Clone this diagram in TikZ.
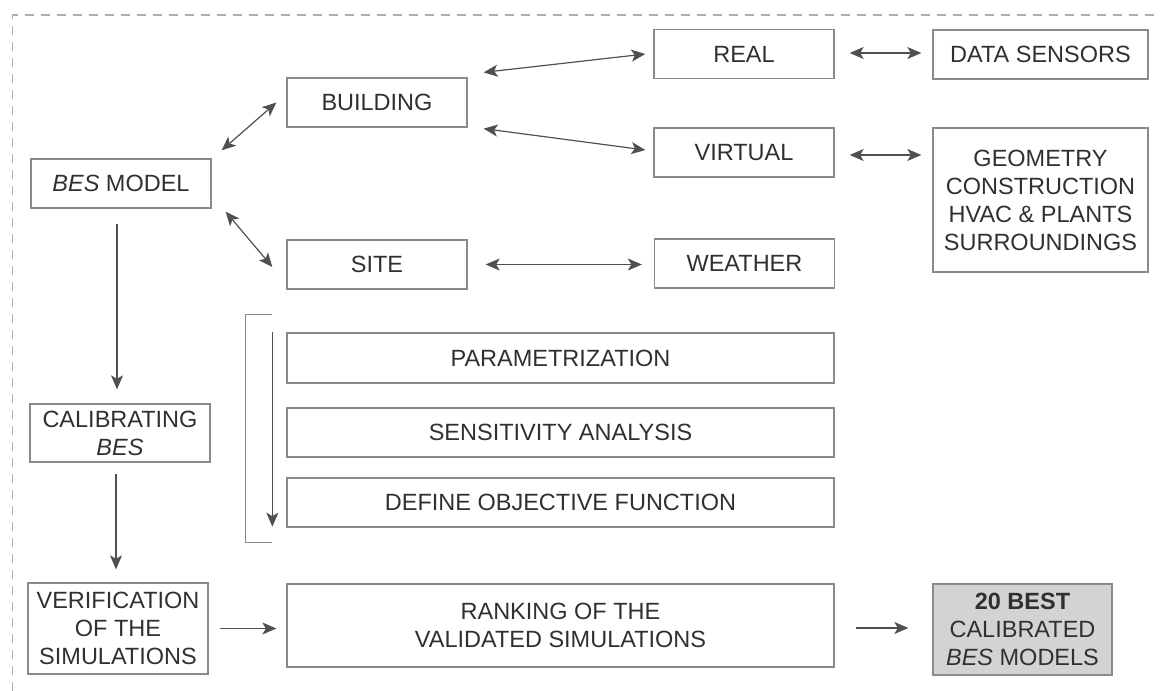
\documentclass[tikz,border=0pt]{standalone}
\usepackage{fontspec}
\setmainfont{Liberation Sans}
\usetikzlibrary{arrows.meta}
\definecolor{textgray}{HTML}{303030}
\definecolor{boxgray}{HTML}{8A8A8A}
\definecolor{arrowgray}{HTML}{505050}
\definecolor{dashgray}{HTML}{B0B0B0}
\definecolor{fillgray}{HTML}{D3D3D5}
\tikzset{
  box/.style={draw=boxgray, line width=1.3pt, text=textgray, inner sep=0pt,
    align=center, font=\fontsize{23.5}{28}\selectfont},
  biarrow/.style={draw=arrowgray, line width=1.2pt,
    {Stealth[length=14pt,width=12pt,inset=3.5pt]}-{Stealth[length=14pt,width=12pt,inset=3.5pt]}},
  onearrow/.style={draw=arrowgray, line width=1.2pt,
    -{Stealth[length=14pt,width=12pt,inset=3.5pt]}},
  bracketline/.style={draw=boxgray, line width=1.3pt},
  frameline/.style={draw=dashgray, line width=1.2pt, dash pattern=on 9pt off 7pt}
}
\begin{document}
\begin{tikzpicture}[x=1pt,y=-1pt]
\useasboundingbox (0,0) rectangle (1160,691);
% dashed frame (top and left only visible)
\draw[frameline] (12.5,691) -- (12.5,15) -- (1160,15);

% nodes
\node[box, minimum width=180pt, minimum height=49pt] (bes) at (121,183.5) {\textit{BES} MODEL};
\node[box, minimum width=180pt, minimum height=49pt] (building) at (377,102.5) {BUILDING};
\node[box, minimum width=180pt, minimum height=49pt] (site) at (377,264.5) {SITE};
\node[box, minimum width=180pt, minimum height=49pt] (real) at (744,54) {REAL};
\node[box, minimum width=180pt, minimum height=49pt] (virtual) at (744,152.5) {VIRTUAL};
\node[box, minimum width=180pt, minimum height=49pt] (weather) at (744.5,263.5) {WEATHER};
\node[box, minimum width=215pt, minimum height=49pt] (data) at (1040.5,54.5) {DATA SENSORS};
\node[box, minimum width=215pt, minimum height=144pt] (geom) at (1040.5,200)
  {GEOMETRY\\CONSTRUCTION\\HVAC \& PLANTS\\SURROUNDINGS};
\node[box, minimum width=547pt, minimum height=50pt] (param) at (560.5,358) {PARAMETRIZATION};
\node[box, minimum width=547pt, minimum height=49pt] (sens) at (560.5,432.5) {SENSITIVITY ANALYSIS};
\node[box, minimum width=547pt, minimum height=49pt] (obj) at (560.5,502.5) {DEFINE OBJECTIVE FUNCTION};
\node[box, minimum width=180pt, minimum height=58pt] (calib) at (120,433) {CALIBRATING\\\textit{BES}};
\node[box, minimum width=180pt, minimum height=91pt] (verif) at (118,628.5)
  {VERIFICATION\\OF THE\\SIMULATIONS};
\node[box, minimum width=547pt, minimum height=83pt] (rank) at (560.5,625.5)
  {RANKING OF THE\\VALIDATED SIMULATIONS};
\node[box, fill=fillgray, minimum width=179pt, minimum height=91pt] (best) at (1022.5,629.5)
  {\textbf{20 BEST}\\CALIBRATED\\\textit{BES} MODELS};

% connectors
\draw[biarrow] ([shift={(10,-8)}]bes.north east) -- ([shift={(-10,0)}]building.west);
\draw[biarrow] ([shift={(14,3)}]bes.south east) -- ([shift={(-14,2.5)}]site.west);
\draw[biarrow] ([shift={(16,-5)}]building.north east) -- ([shift={(-8,0)}]real.west);
\draw[biarrow] ([shift={(16,1)}]building.south east) -- ([shift={(-8,-2.5)}]virtual.west);
\draw[biarrow] ([shift={(15,-1)}]real.east) -- ([shift={(-11,-1)}]real.east -| data.west);
\draw[biarrow] ([shift={(15,2.5)}]virtual.east) -- ([shift={(-11,2.5)}]virtual.east -| geom.west);
\draw[biarrow] ([shift={(18,0)}]site.east) -- ([shift={(-12,0)}]site.east -| weather.west);
\draw[onearrow] ([shift={(-4,15)}]bes.south) -- ([shift={(-4,-14)}]bes.south |- calib.north);
\draw[onearrow] ([shift={(-4,11)}]calib.south) -- ([shift={(-4,-13)}]calib.south |- verif.north);
\draw[onearrow] ([shift={(11,0)}]verif.east) -- ([shift={(-10,0)}]verif.east -| rank.west);
\draw[onearrow] ([shift={(21,-1.5)}]rank.east |- best.west) -- ([shift={(-24,-1.5)}]best.west);

% bracket and sequence arrow
\coordinate (brtop) at ([shift={(-14,-18)}]param.north west);
\coordinate (brbot) at ([shift={(-14,15)}]obj.south west);
\draw[bracketline] (brtop) -- ++(-27,0) |- (brbot);
\draw[onearrow] ([shift={(-14,0)}]param.north west) -- ([shift={(-14,-1)}]obj.south west);
\end{tikzpicture}
\end{document}
